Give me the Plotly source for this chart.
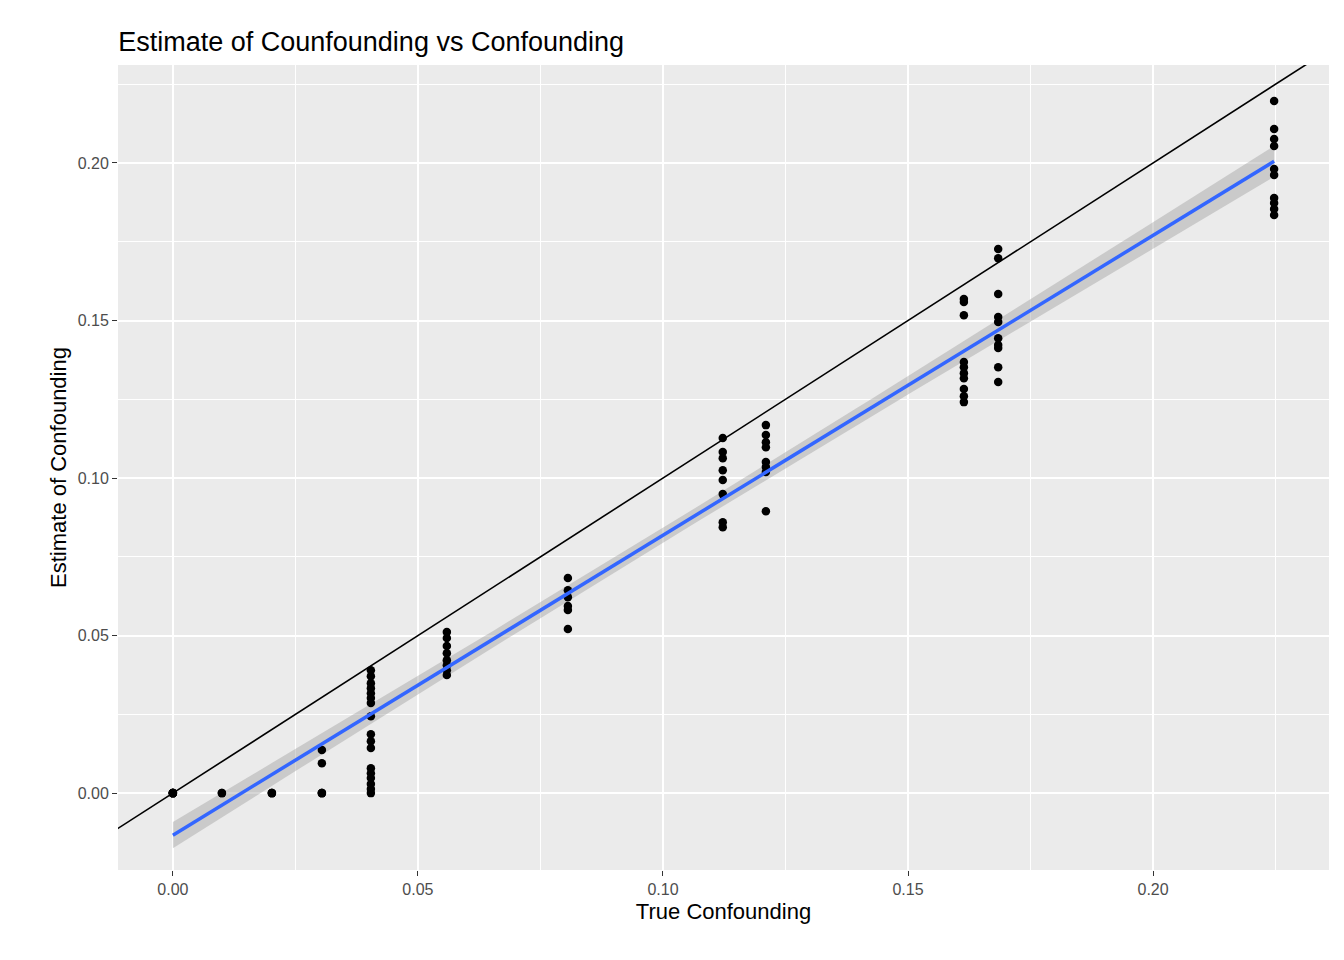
import numpy as np
import plotly.graph_objects as go

# true confounding per group and estimates
x_groups = [0.0, 0.01, 0.0202, 0.0304, 0.0404, 0.0559, 0.0806, 0.1122, 0.121, 0.1614, 0.1684, 0.2247]
y_groups = [
    [0, 0, 0, 0, 0, 0],
    [0, 0],
    [0, 0, 0],
    [0, 0, 0, 0.0095, 0.0137],
    [0.039, 0.0371, 0.0349, 0.0333, 0.0317, 0.0302, 0.0286, 0.0244, 0.0187, 0.0165,
     0.0143, 0.0079, 0.0063, 0.0048, 0.0029, 0.0013, 0],
    [0.0511, 0.0492, 0.0467, 0.0444, 0.0422, 0.0406, 0.039, 0.0375],
    [0.0683, 0.0644, 0.0622, 0.0594, 0.0581, 0.0521],
    [0.1127, 0.1083, 0.1063, 0.1025, 0.0994, 0.0949, 0.086, 0.0844],
    [0.1168, 0.1137, 0.1114, 0.1098, 0.1051, 0.1035, 0.1019, 0.0895],
    [0.1568, 0.1559, 0.1517, 0.1368, 0.1352, 0.1333, 0.1317, 0.1283, 0.126, 0.1241],
    [0.1727, 0.1698, 0.1584, 0.1511, 0.1495, 0.1444, 0.1422, 0.1413, 0.1352, 0.1305],
    [0.2197, 0.2108, 0.2076, 0.2054, 0.1981, 0.1962, 0.1889, 0.1873, 0.1854, 0.1835],
]

xs = np.array([x for x, ys in zip(x_groups, y_groups) for _ in ys])
ys = np.array([y for g in y_groups for y in g])

# linear fit with 95% CI, like geom_smooth(method='lm')
n = len(xs)
b, a = np.polyfit(xs, ys, 1)
resid = ys - (a + b * xs)
s = np.sqrt(np.sum(resid ** 2) / (n - 2))
xg = np.linspace(xs.min(), xs.max(), 80)
se = s * np.sqrt(1 / n + (xg - xs.mean()) ** 2 / np.sum((xs - xs.mean()) ** 2))
yfit = a + b * xg
lo, hi = yfit - 1.96 * se, yfit + 1.96 * se

xr = [-0.0112, 0.2359]
yr = [-0.0244, 0.2311]

fig = go.Figure()
fig.add_trace(go.Scatter(x=[-0.03, 0.26], y=[-0.03, 0.26], mode='lines',
                         line=dict(color='black', width=1.6), showlegend=False))
fig.add_trace(go.Scatter(x=np.concatenate([xg, xg[::-1]]), y=np.concatenate([hi, lo[::-1]]),
                         fill='toself', fillcolor='rgba(153,153,153,0.4)', line=dict(width=0),
                         mode='lines', showlegend=False))
fig.add_trace(go.Scatter(x=xs, y=ys, mode='markers',
                         marker=dict(color='black', size=8.5), showlegend=False))
fig.add_trace(go.Scatter(x=xg, y=yfit, mode='lines',
                         line=dict(color='#3366FF', width=3.5), showlegend=False))

axis_common = dict(showgrid=True, gridcolor='white', gridwidth=1.6, zeroline=False,
                   ticks='outside', ticklen=5, tickcolor='#333333', tickformat='.2f',
                   tickfont=dict(size=16, color='#4D4D4D'),
                   minor=dict(showgrid=True, gridcolor='white', gridwidth=0.7))
fig.update_xaxes(range=xr, tickvals=[0, 0.05, 0.1, 0.15, 0.2], dtick=0.05,
                 title=dict(text='True Confounding', font=dict(size=22, color='black'), standoff=6),
                 **axis_common)
fig.update_yaxes(range=yr, tickvals=[0, 0.05, 0.1, 0.15, 0.2], dtick=0.05,
                 title=dict(text='Estimate of Confounding', font=dict(size=22, color='black'), standoff=4),
                 **axis_common)
fig.update_xaxes(minor=dict(tickvals=[0.025, 0.075, 0.125, 0.175, 0.225], ticklen=0))
fig.update_yaxes(minor=dict(tickvals=[-0.025, 0.025, 0.075, 0.125, 0.175, 0.225], ticklen=0))

fig.update_layout(
    width=1344, height=960,
    title=dict(text='Estimate of Counfounding vs Confounding', x=0.082, xanchor='left',
               y=0.975, font=dict(size=27, color='black')),
    font=dict(family='Liberation Sans, Arial, sans-serif'),
    plot_bgcolor='#EBEBEB', paper_bgcolor='white',
    margin=dict(l=110, r=23, t=57, b=98),
)

fig.write_html("out.html")
